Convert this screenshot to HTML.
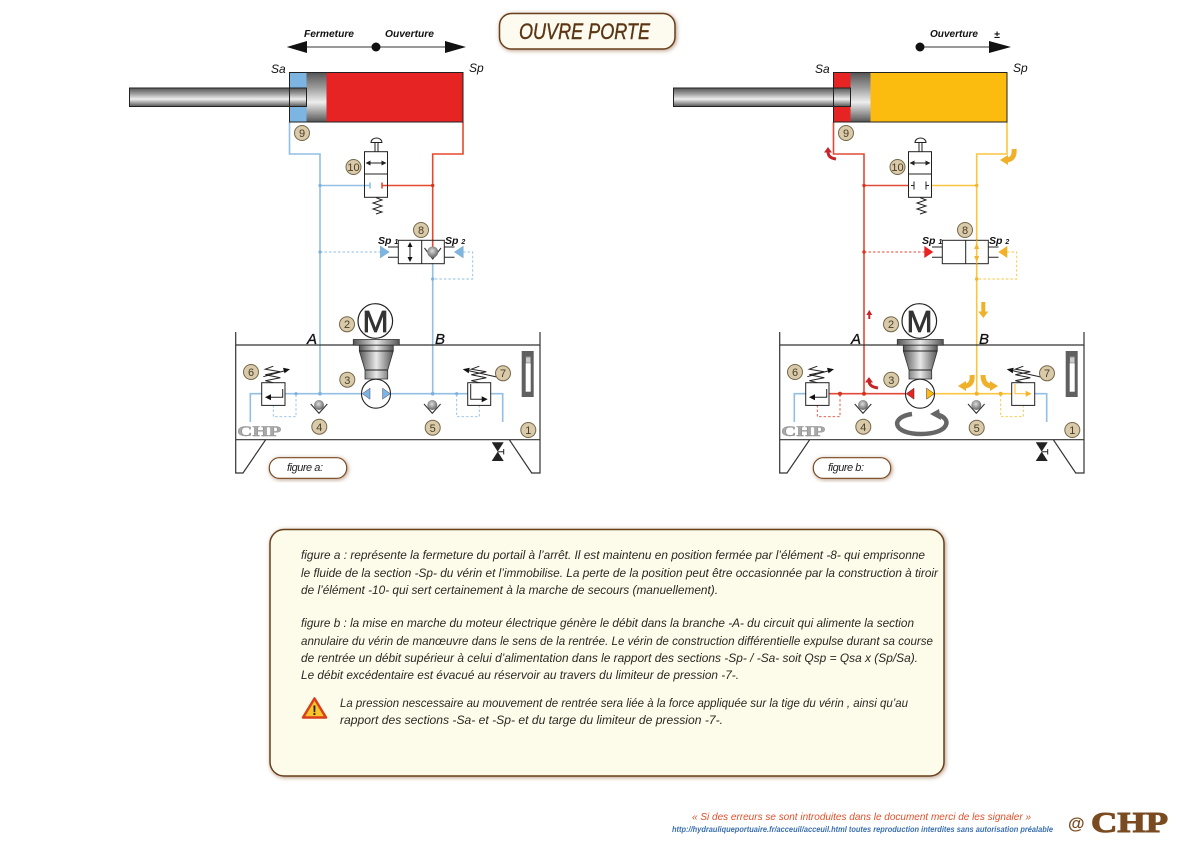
<!DOCTYPE html>
<html lang="fr"><head><meta charset="utf-8"><title>Ouvre porte</title>
<style>
html,body{margin:0;padding:0;background:#fff}
svg{display:block}
text{font-family:"Liberation Sans",sans-serif;font-style:italic}
.h{font-weight:bold;font-size:10.5px;fill:#111}
.s{font-size:12px;fill:#111}
.p{font-size:11.5px;fill:#2b2822}
.n{font-style:normal;font-size:11px;fill:#4a3d28;text-anchor:middle}
.b{fill:#d9caa9;stroke:#75664a;stroke-width:1}
.l{fill:none;stroke-width:1.6}
.d{fill:none;stroke-width:.9;stroke-dasharray:2.5 2}
.k{fill:none;stroke:#222;stroke-width:1}
.lab{font-size:15px;fill:#111;stroke:#111;stroke-width:.3}
.chp{font-family:"Liberation Serif",serif;font-style:normal;font-weight:bold}
</style></head><body>
<svg width="1191" height="842" viewBox="0 0 1191 842" xmlns="http://www.w3.org/2000/svg">
<defs>
<linearGradient id="gv" x1="0" y1="0" x2="0" y2="1"><stop offset="0" stop-color="#555"/><stop offset=".3" stop-color="#9a9a9a"/><stop offset=".6" stop-color="#eee"/><stop offset="1" stop-color="#555"/></linearGradient>
<linearGradient id="gh" x1="0" y1="0" x2="1" y2="0"><stop offset="0" stop-color="#555"/><stop offset=".5" stop-color="#e8e8e8"/><stop offset="1" stop-color="#555"/></linearGradient>
<radialGradient id="ball" cx=".45" cy=".4" r=".6"><stop offset="0" stop-color="#ddd"/><stop offset="1" stop-color="#666"/></radialGradient>
<filter id="sh" x="-10%" y="-20%" width="120%" height="140%"><feDropShadow dx="1" dy="1" stdDeviation="2" flood-color="#7a4a24" flood-opacity=".55"/></filter>
<g id="base">
 <rect x="306.500" y="72.500" width="20" height="49.500" fill="url(#gv)"/>
 <rect x="129.500" y="88" width="177" height="18.500" fill="url(#gv)" stroke="#222" stroke-width="1"/>
 <rect x="289.500" y="72.500" width="173.500" height="49.500" fill="none" stroke="#222" stroke-width="1"/>
 <rect x="364.500" y="151.700" width="23" height="45.600" fill="none" stroke="#222"/>
 <path class="k" d="M364.500 174H387.500M367 163H385"/>
 <path d="M365.500 163l5-2.500v5zM386.500 163l-5-2.500v5z" fill="#222"/>
 <path class="k" d="M375 151.700V142.500M378 151.700V142.500"/>
 <path d="M371 142.500a5.500 4.500 0 0 1 11 0z" fill="#fff" stroke="#222"/>
 <path class="k" d="M376 197.500l6 2.500-9 3 9 3-9 3 9 3-6 2"/>
 <path class="k" d="M398.300 247H388M398.300 257.300H388M444.300 247H454.500M444.300 257.300H454.500"/>
 <rect x="398.300" y="240.300" width="46" height="23.400" fill="none" stroke="#222"/>
 <path class="k" d="M421.700 240.300V263.700"/>
 <path d="M235.700 332V473H243L265.700 439.700M235.700 345H540M235.700 439.700H540M509.300 439.700L531.700 473H540V332" fill="none" stroke="#333" stroke-width="1.200"/>
 <circle cx="375.300" cy="321" r="17.300" fill="#fff" stroke="#222" stroke-width="1.200"/>
 <rect x="353.300" y="339.500" width="46" height="5.700" fill="url(#gh)" stroke="#333" stroke-width=".8"/>
 <path d="M359.300 345.200H393.300V351L387.700 370V379H365V370L359.300 351Z" fill="url(#gh)" stroke="#333" stroke-width=".8"/>
 <path class="k" d="M359.300 351H393.300M365 370H387.700"/>
 <circle cx="376" cy="393.700" r="14.500" fill="#fff" stroke="#222" stroke-width="1.100"/>
 <rect x="261.700" y="382.700" width="23.300" height="22.700" fill="#fff" stroke="#222"/>
 <rect x="467.700" y="382.700" width="23" height="22.700" fill="#fff" stroke="#222"/>
 <path class="k" d="M273.300 382.700l-8-2 15-3-15-3 15-3-15-2.500 8-3"/>
 <path class="k" d="M479.300 382.700l-8-2 15-3-15-3 15-3-15-2.500 8-3"/>
 <path class="k" d="M263.300 376.700L284 371"/><path d="M290 369.300l-7-1.500 1.500 5.500z" fill="#111"/>
 <path class="k" d="M496.700 377L469 370.800"/><path d="M462.700 369.300l7-1.500-1 5.500z" fill="#111"/>
 <path d="M310.700 404L319 413.300L327.300 404" fill="none" stroke="#333" stroke-width="1.100"/>
 <circle cx="319" cy="405" r="5" fill="url(#ball)"/>
 <path d="M424 404L432.300 413.300L440.600 404" fill="none" stroke="#333" stroke-width="1.100"/>
 <circle cx="432.300" cy="405" r="5" fill="url(#ball)"/>
 <rect x="521.700" y="351" width="12" height="46" fill="#606060"/>
 <rect x="525.700" y="356.700" width="5" height="35" fill="#fff"/>
 <rect x="525.700" y="357" width="5" height="6" fill="#ccc" stroke="#666" stroke-width=".5"/>
 <path d="M491.700 442.300H503.700L491.700 461H503.700Z" fill="#222"/>
 <path class="k" d="M497.700 451.700H503.700M503.700 449V454.500"/>
 <circle class="b" cx="302" cy="133" r="7.500"/><circle class="b" cx="353.500" cy="167" r="7.500"/><circle class="b" cx="421" cy="230" r="7.500"/>
 <circle class="b" cx="347" cy="324.300" r="7.500"/><circle class="b" cx="347.300" cy="379.700" r="7.500"/><circle class="b" cx="251" cy="372" r="7.500"/>
 <circle class="b" cx="503" cy="373.300" r="7.500"/><circle class="b" cx="319.300" cy="426.700" r="7.500"/><circle class="b" cx="432.700" cy="427.700" r="7.500"/>
 <circle class="b" cx="528.300" cy="430" r="7.500"/>
 <rect x="269.300" y="457.700" width="77.400" height="20.600" rx="10" fill="#fff" stroke="#7a4a24" stroke-width="1.200" filter="url(#sh)"/>
</g>
</defs>
<rect width="1191" height="842" fill="#fff"/>

<rect x="499.500" y="13.500" width="175.500" height="35.500" rx="12" fill="#fdfbf0" stroke="#6b3f1e" stroke-width="1.500" filter="url(#sh)"/>
<text x="519" y="39" font-size="22" fill="#5c3614" stroke="#5c3614" stroke-width=".4" textLength="131" lengthAdjust="spacingAndGlyphs">OUVRE PORTE</text>

<rect x="289.500" y="72.500" width="17" height="49.500" fill="#7db5e2"/>
<rect x="326.500" y="72.500" width="136.500" height="49.500" fill="#e62424"/>
<g stroke="#92bfe3">
 <path class="l" d="M289.500 122V154H320V393.700M250.300 422V393.700H261.700M285 393.700H467.700M490.700 393.700H502.700V422M320 185.500H370M432.700 263V393.700"/>
 <path class="d" d="M320 252H381M463 252H472.700V279H432.700M273.300 405V416.700H296V393.700M479.300 405V416.700H456.700V393.700"/>
 <path class="l" d="M370 182.500V188.500" stroke-width="1"/>
</g>
<g stroke="#e5492e">
 <path class="l" d="M463 122V154H432.700V250M382 185.500H432.700"/>
 <path class="l" d="M382 182.500V188.500" stroke-width="1"/>
</g>
<g fill="#7db0dc"><circle cx="320" cy="185.500" r="1.600"/><circle cx="320" cy="252" r="1.600"/><circle cx="296" cy="393.700" r="1.600"/><circle cx="320" cy="393.700" r="1.800"/><circle cx="432.700" cy="393.700" r="1.800"/><circle cx="456.700" cy="393.700" r="1.600"/><circle cx="432.700" cy="279" r="1.600"/></g>
<circle cx="432.700" cy="185.500" r="1.700" fill="#d9331c"/>
<use href="#base"/>
<path d="M380.300 246l9 6-9 6z" fill="#7db5e2" stroke="#7aa" stroke-width=".4"/>
<path d="M463.300 246l-9 6 9 6z" fill="#7db5e2" stroke="#7aa" stroke-width=".4"/>
<path class="k" d="M410 243V261"/><path d="M410 242l-2.500 5h5zM410 262l-2.500-5h5z" fill="#111"/>
<path d="M424.500 248L432.700 259L441 248" fill="none" stroke="#333" stroke-width="1.100"/>
<circle cx="432.700" cy="252" r="5.500" fill="url(#ball)"/>
<path d="M362.300 393.700l7.700-5.500v11z" fill="#7db5e2" stroke="#446" stroke-width=".5"/>
<path d="M390.300 393.700l-7.700-5.500v11z" fill="#7db5e2" stroke="#446" stroke-width=".5"/>
<path class="k" d="M282.700 389V397.300H269"/><path d="M265 397.300l6-3v6z" fill="#111"/>
<path class="k" d="M470.700 384V399.300H484"/><path d="M487.700 399.300l-6-3v6z" fill="#111"/>
<path d="M289 47H464" stroke="#333" stroke-width="1"/>
<path d="M286.700 47L307 41V53ZM466 47L445 41V53Z" fill="#111"/><circle cx="376" cy="47" r="4.500" fill="#111"/>
<text class="h" x="304" y="37" textLength="50" lengthAdjust="spacingAndGlyphs">Fermeture</text>
<text class="h" x="385" y="37" textLength="49" lengthAdjust="spacingAndGlyphs">Ouverture</text>

<g transform="translate(544 0)">
<rect x="289.500" y="72.500" width="17" height="49.500" fill="#e62424"/>
<rect x="326.500" y="72.500" width="136.500" height="49.500" fill="#fcbc0f"/>
<g stroke="#e04a38">
 <path class="l" d="M289.500 122V154H320V393.700M285 393.700H362M320 185.500H365"/>
 <path class="d" d="M320 252H381M273.300 405V416.700H296V393.700"/>
</g>
<g stroke="#fbc63f">
 <path class="l" d="M463 122V154H432.700V393.700M390 393.700H467.700M387.500 185.500H432.700"/>
 <path class="d" d="M463 252H472.700V279H432.700M479.300 405V416.700H456.700V393.700"/>
</g>
<path class="l" stroke="#92bfe3" d="M250.300 422V393.700H261.700M490.700 393.700H502.700V422"/>
<g fill="#d9331c"><circle cx="320" cy="185.500" r="1.700"/><circle cx="320" cy="252" r="1.700"/><circle cx="296" cy="393.700" r="2"/><circle cx="320" cy="393.700" r="2"/></g>
<g fill="#f5b52a"><circle cx="432.700" cy="185.500" r="1.700"/><circle cx="432.700" cy="279" r="1.700"/><circle cx="456.700" cy="393.700" r="2"/><circle cx="432.700" cy="393.700" r="2"/></g>
<use href="#base"/>
<path class="k" d="M370 181.500V189.500M382 181.500V189.500M367 185.500H370M382 185.500H385"/>
<path d="M432.700 240.300V263.700" stroke="#fbc63f" stroke-width="1.400"/>
<path d="M432.700 243l-2.500 6h5zM432.700 262l-2.500-6h5z" fill="#f5b52a"/>
<path d="M380.300 246l9 6-9 6z" fill="#e62424"/>
<path d="M463.300 246l-9 6 9 6z" fill="#efb02a"/>
<path d="M362.300 393.700l7.700-5.500v11z" fill="#e62424" stroke="#422" stroke-width=".5"/>
<path d="M390.300 393.700l-7.700-5.500v11z" fill="#fcbc0f" stroke="#422" stroke-width=".5"/>
<path class="k" d="M282.700 389V397.300H269"/><path d="M265 397.300l6-3v6z" fill="#111"/>
<path d="M471 384V393.700H484" fill="none" stroke="#fbc63f" stroke-width="1.200"/><path d="M487.700 393.700l-6-3v6z" fill="#f5b52a"/>
<g fill="none" stroke="#666" stroke-width="4.500"><path d="M368 414C346 417 348 434 377 434C406 434 408 418 394 415"/></g>
<path d="M386 414l9-5 2 11z" fill="#666"/>
<path d="M325.300 310l-3 5h2v4h2v-4h2z" fill="#c8252a"/>
<path d="M439.300 318l-5-6.500h3v-9.500h4v9.500h3z" fill="#efb02a"/>
<path d="M292 159C285 158 284 155 284 151" fill="none" stroke="#c8252a" stroke-width="3"/><path d="M284 147l-4 5.500h8z" fill="#c8252a"/>
<path d="M470 149C471 157 467 160 462 160" fill="none" stroke="#efb02a" stroke-width="5"/><path d="M456 160l8-5v10z" fill="#efb02a"/>
<path d="M334 388C327 387 325 384 325 381" fill="none" stroke="#c8252a" stroke-width="3"/><path d="M325 377l-4 5.500h8z" fill="#c8252a"/>
<path d="M428 375C429 383 425 386 420 386" fill="none" stroke="#efb02a" stroke-width="5"/><path d="M414 386l8-5v10z" fill="#efb02a"/>
<path d="M439 375C439 383 443 386 448 386" fill="none" stroke="#efb02a" stroke-width="5"/><path d="M454 386l-8-5v10z" fill="#efb02a"/>
</g>
<path d="M920 47H1000" stroke="#333" stroke-width="1"/>
<path d="M1011 47L989 41V53Z" fill="#111"/><circle cx="920" cy="47" r="4.500" fill="#111"/>
<text class="h" x="930" y="37" textLength="48" lengthAdjust="spacingAndGlyphs">Ouverture</text>
<text class="h" x="994" y="38">±</text>

<text class="s" x="271" y="73">Sa</text><text class="s" x="469" y="72">Sp</text>
<text class="s" x="815" y="73">Sa</text><text class="s" x="1013" y="72">Sp</text>
<text class="h" x="378" y="244" font-size="11">Sp <tspan font-size="7">1</tspan></text><text class="h" x="445" y="244" font-size="11">Sp <tspan font-size="7">2</tspan></text>
<text class="h" x="922" y="244" font-size="11">Sp <tspan font-size="7">1</tspan></text><text class="h" x="989" y="244" font-size="11">Sp <tspan font-size="7">2</tspan></text>
<text class="lab" x="307" y="344">A</text><text class="lab" x="435" y="344">B</text>
<text class="lab" x="851" y="344">A</text><text class="lab" x="979" y="344">B</text>
<text x="362.500" y="332" font-size="31" textLength="26" lengthAdjust="spacingAndGlyphs" style="font-style:normal" fill="#333" stroke="#333" stroke-width=".7">M</text>
<text x="906.500" y="332" font-size="31" textLength="26" lengthAdjust="spacingAndGlyphs" style="font-style:normal" fill="#333" stroke="#333" stroke-width=".7">M</text>
<text class="n" x="302" y="137">9</text><text class="n" x="353.500" y="171">10</text><text class="n" x="421" y="234">8</text><text class="n" x="347" y="328">2</text><text class="n" x="347.300" y="384">3</text><text class="n" x="251" y="376">6</text><text class="n" x="503" y="377">7</text><text class="n" x="319.300" y="431">4</text><text class="n" x="432.700" y="432">5</text><text class="n" x="528.300" y="434">1</text>
<text class="n" x="846" y="137">9</text><text class="n" x="897.500" y="171">10</text><text class="n" x="965" y="234">8</text><text class="n" x="891" y="328">2</text><text class="n" x="891.300" y="384">3</text><text class="n" x="795" y="376">6</text><text class="n" x="1047" y="377">7</text><text class="n" x="863.300" y="431">4</text><text class="n" x="976.700" y="432">5</text><text class="n" x="1072.300" y="434">1</text>
<text class="chp" x="237.300" y="436" font-size="15" fill="#a9a9a9" stroke="#8a8a8a" stroke-width=".4" textLength="44" lengthAdjust="spacingAndGlyphs">CHP</text>
<text class="chp" x="781.300" y="436" font-size="15" fill="#a9a9a9" stroke="#8a8a8a" stroke-width=".4" textLength="44" lengthAdjust="spacingAndGlyphs">CHP</text>
<text x="287" y="471" font-size="11" fill="#222" textLength="36">figure a:</text>
<text x="828" y="471" font-size="11" fill="#222" textLength="36">figure b:</text>

<rect x="270" y="529.500" width="674" height="246.500" rx="14" fill="#fdfbea" stroke="#6b3f1e" stroke-width="1.500" filter="url(#sh)"/>
<text class="p" x="301" y="559" textLength="624" lengthAdjust="spacingAndGlyphs">figure a : représente la fermeture du portail à l’arrêt. Il est maintenu en position fermée par l’élément -8- qui emprisonne</text>
<text class="p" x="301" y="577" textLength="637" lengthAdjust="spacingAndGlyphs">le fluide de la section -Sp- du vérin et l’immobilise. La perte de la position peut être occasionnée par la construction à tiroir</text>
<text class="p" x="301" y="594" textLength="417" lengthAdjust="spacingAndGlyphs">de l’élément -10- qui sert certainement à la marche de secours (manuellement).</text>
<text class="p" x="301" y="627" textLength="613" lengthAdjust="spacingAndGlyphs">figure b : la mise en marche du moteur électrique génère le débit dans la branche -A- du circuit qui alimente la section</text>
<text class="p" x="301" y="645" textLength="632" lengthAdjust="spacingAndGlyphs">annulaire du vérin de manœuvre dans le sens de la rentrée. Le vérin de construction différentielle expulse durant sa course</text>
<text class="p" x="301" y="662" textLength="617" lengthAdjust="spacingAndGlyphs">de rentrée un débit supérieur à celui d’alimentation dans le rapport des sections -Sp- / -Sa- soit Qsp = Qsa x  (Sp/Sa).</text>
<text class="p" x="301" y="679" textLength="438" lengthAdjust="spacingAndGlyphs">Le débit excédentaire est évacué au réservoir au travers du limiteur de pression -7-.</text>
<text class="p" x="340" y="707" textLength="568" lengthAdjust="spacingAndGlyphs">La pression nescessaire au mouvement de rentrée sera liée à la force appliquée sur la tige du vérin , ainsi qu’au</text>
<text class="p" x="340" y="724" textLength="383" lengthAdjust="spacingAndGlyphs">rapport des sections -Sa- et -Sp- et du targe du limiteur de pression -7-.</text>
<path d="M314.500 698.500L326 717.500H303Z" fill="#fbc52a" stroke="#d8401c" stroke-width="2.500" stroke-linejoin="round"/>
<text x="314.500" y="715" font-size="14" font-weight="bold" text-anchor="middle" style="font-style:normal" fill="#222">!</text>

<text x="692" y="820" font-size="10.500" fill="#e0502a" textLength="339" lengthAdjust="spacingAndGlyphs">« Si des erreurs se sont introduites dans le document merci de les signaler »</text>
<text x="672" y="832" font-size="8" fill="#3a6fb0" textLength="381" lengthAdjust="spacingAndGlyphs" font-weight="bold">http://hydrauliqueportuaire.fr/acceuil/acceuil.html toutes reproduction interdites sans autorisation préalable</text>
<text x="1068" y="829" font-size="17" font-weight="bold" style="font-style:normal" fill="#7a4a20">@</text>
<text class="chp" x="1091" y="832" font-size="28" fill="#7a4a20" stroke="#7a4a20" stroke-width="1" textLength="77" lengthAdjust="spacingAndGlyphs">CHP</text>
</svg>
</body></html>
